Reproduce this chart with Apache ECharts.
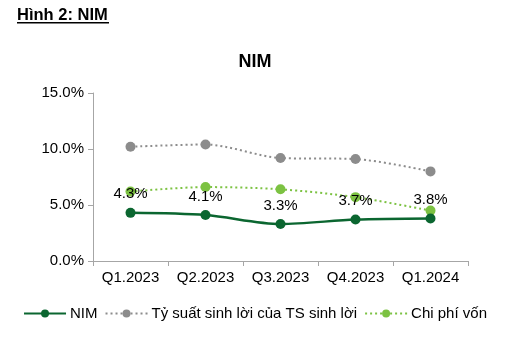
<!DOCTYPE html>
<html>
<head>
<meta charset="utf-8">
<script src="https://cdn.jsdelivr.net/npm/echarts@6/dist/echarts.min.js"></script>
<style>
  html, body { margin: 0; padding: 0; background: #fff; }
  #chart { width: 510px; height: 346px; }
</style>
</head>
<body>
<div id="chart"></div>
<script>
// Quarterly net interest margin and its components (%)
const quarters = ['Q1.2023', 'Q2.2023', 'Q3.2023', 'Q4.2023', 'Q1.2024'];
const nim = [4.3, 4.1, 3.3, 3.7, 3.8];
const yieldOnAssets = [10.2, 10.4, 9.2, 9.1, 8.0];
const costOfFunds = [6.2, 6.6, 6.4, 5.7, 4.5];
const yTicks = [0, 5, 10, 15];

const FONT = '"Liberation Sans", Arial, sans-serif';
const chart = echarts.init(document.getElementById('chart'), null, { renderer: 'canvas' });

chart.setOption({
  animation: false,
  textStyle: { fontFamily: FONT },
  graphic: [
    {
      type: 'text', left: 17, top: 7,
      style: { text: 'Hình 2: NIM', font: 'bold 16.5px ' + FONT, fill: '#000' }
    },
    {
      type: 'rect', left: 17, top: 22,
      shape: { width: 92, height: 1.5 },
      style: { fill: '#000' }
    }
  ],
  title: {
    text: 'NIM', left: 'center', top: 48,
    textStyle: { fontSize: 18, fontWeight: 'bold', color: '#000', fontFamily: FONT }
  },
  grid: { left: 93, right: 42, top: 93, bottom: 85 },
  legend: {
    bottom: 20, left: 'center',
    itemWidth: 42, itemHeight: 10, itemGap: 7,
    textStyle: { fontSize: 15, color: '#000', fontFamily: FONT, padding: [0, 0, 0, -1] },
    data: ['NIM', 'Tỷ suất sinh lời của TS sinh lời', 'Chi phí vốn']
  },
  xAxis: {
    type: 'category', data: quarters, boundaryGap: true,
    axisLine: { lineStyle: { color: '#a6a6a6', width: 1 } },
    axisTick: { show: true, length: 5, lineStyle: { color: '#a6a6a6' } },
    axisLabel: { fontSize: 15, color: '#000', margin: 9, fontFamily: FONT }
  },
  yAxis: {
    type: 'value', min: yTicks[0], max: yTicks[yTicks.length - 1], interval: 5,
    axisLine: { show: true, lineStyle: { color: '#a6a6a6', width: 1 } },
    axisTick: { show: true, length: 5, lineStyle: { color: '#a6a6a6' } },
    splitLine: { show: false },
    axisLabel: {
      fontSize: 15, color: '#000', margin: 9, fontFamily: FONT,
      formatter: v => v.toFixed(1) + '%'
    }
  },
  series: [
    {
      name: 'Tỷ suất sinh lời của TS sinh lời', type: 'line', data: yieldOnAssets,
      smooth: 0.3, symbol: 'circle', symbolSize: 10,
      lineStyle: { color: '#8c8c8c', width: 2, type: [2, 3] },
      itemStyle: { color: '#8c8c8c' }
    },
    {
      name: 'Chi phí vốn', type: 'line', data: costOfFunds,
      smooth: 0.3, symbol: 'circle', symbolSize: 10,
      lineStyle: { color: '#7cc242', width: 2, type: [2, 3] },
      itemStyle: { color: '#7cc242' }
    },
    {
      name: 'NIM', type: 'line', data: nim, z: 5,
      smooth: 0.3, symbol: 'circle', symbolSize: 10,
      lineStyle: { color: '#0b6630', width: 2.5 },
      itemStyle: { color: '#0b6630' },
      label: {
        show: true, position: 'top', distance: 6,
        fontSize: 15, color: '#000', fontFamily: FONT,
        formatter: p => p.value.toFixed(1) + '%'
      }
    }
  ]
});
</script>
</body>
</html>
